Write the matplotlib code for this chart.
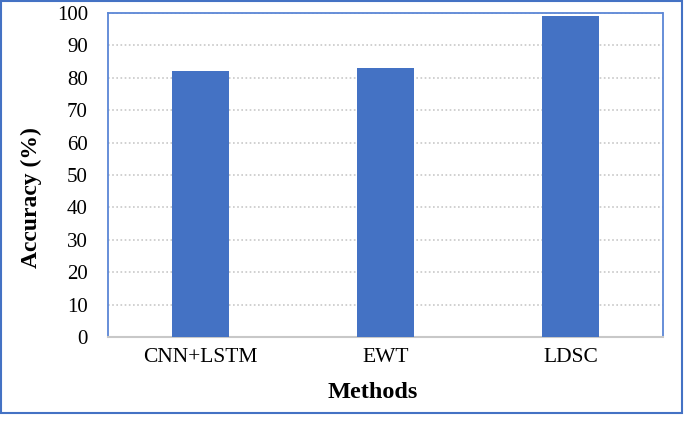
import matplotlib
matplotlib.use("Agg")
import matplotlib.pyplot as plt
from matplotlib.patches import Rectangle

categories = ["CNN+LSTM", "EWT", "LDSC"]
accuracy = [82, 83, 99]
yticks = [0, 10, 20, 30, 40, 50, 60, 70, 80, 90, 100]

plt.rcParams['font.family'] = ['Liberation Serif', 'DejaVu Serif']

W, H = 685, 422
fig = plt.figure(figsize=(W / 100, H / 100), dpi=100)
ax_l, ax_r, ax_t, ax_b = 108, 663, 13, 337
ax = fig.add_axes([ax_l / W, 1 - ax_b / H, (ax_r - ax_l) / W, (ax_b - ax_t) / H])

blue = '#4472C4'
x = range(len(categories))
ax.bar(x, accuracy, width=0.31, color=blue, zorder=3)
ax.set_xlim(-0.5, len(categories) - 0.5)
ax.set_ylim(0, 100)
ax.set_yticks(yticks)
ax.set_xticks(list(x))
ax.set_xticklabels(categories)
ax.tick_params(axis='y', length=0, labelsize=15, pad=14.5)
ax.tick_params(axis='x', length=0, labelsize=15.5, pad=8)
ax.yaxis.grid(True, linestyle=(0, (1, 1.5)), color='#c8c8c8', linewidth=1.2, zorder=0)
ax.set_axisbelow(True)

for side in ['left', 'right', 'top']:
    ax.spines[side].set_color('#5b86d6')
    ax.spines[side].set_linewidth(1.3)
ax.spines['top'].set_linestyle((0, (1, 1)))
ax.spines['bottom'].set_color('#c8c8c8')
ax.spines['bottom'].set_linewidth(1.5)

ax.set_ylabel('Accuracy (%)', fontsize=17, fontweight='bold', va='center')
ax.yaxis.set_label_coords((31 - ax_l) / (ax_r - ax_l), (ax_b - 197.5) / (ax_b - ax_t))
ax.set_xlabel('Methods', fontsize=17.5, fontweight='bold', va='center')
ax.xaxis.set_label_coords((373 - ax_l) / (ax_r - ax_l), (ax_b - 392) / (ax_b - ax_t))

fig.patches.append(Rectangle((1 / W, 1 - 413 / H), (682 - 1) / W, (413 - 1) / H,
                             transform=fig.transFigure, fill=False,
                             edgecolor='#4472C4', linewidth=1.5))

fig.savefig('out.png', dpi=100)
